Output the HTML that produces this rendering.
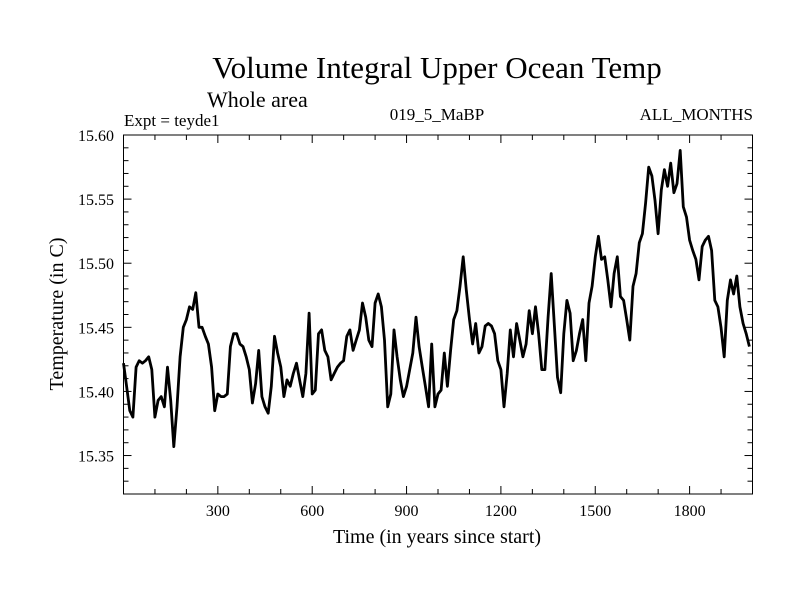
<!DOCTYPE html>
<html><head><meta charset="utf-8"><style>
body{margin:0;background:#fff;}
svg{display:block;font-family:"Liberation Serif",serif;}
</style></head><body>
<svg id="chart" width="800" height="600" viewBox="0 0 800 600">
<rect width="800" height="600" fill="#fff"/>
<text x="437" y="78" font-size="31" text-anchor="middle">Volume Integral Upper Ocean Temp</text>
<text x="207" y="107" font-size="22">Whole area</text>
<text x="124" y="126" font-size="17">Expt = teyde1</text>
<text x="437" y="120" font-size="17" text-anchor="middle">019_5_MaBP</text>
<text x="753" y="120" font-size="17" text-anchor="end">ALL_MONTHS</text>
<text x="437" y="543" font-size="20" text-anchor="middle">Time (in years since start)</text>
<text transform="translate(63,314) rotate(-90)" font-size="20" text-anchor="middle">Temperature (in C)</text>
<g id="axes"></g>
<path id="series" fill="none" stroke="#000" stroke-width="2.8" stroke-linejoin="round"/>
<rect x="123.5" y="135" width="629" height="359" fill="none" stroke="#000" stroke-width="1"/>
</svg>
<script>
const years0 = 0, yearStep = 10;
const temps = [
15.422,15.404,15.385,15.380,15.419,15.424,15.422,15.424,15.427,15.417,
15.380,15.393,15.396,15.388,15.419,15.393,15.357,15.388,15.427,15.450,
15.456,15.466,15.464,15.477,15.450,15.450,15.443,15.437,15.419,15.385,
15.398,15.396,15.396,15.398,15.435,15.445,15.445,15.437,15.435,15.427,
15.417,15.391,15.406,15.432,15.396,15.388,15.383,15.404,15.443,15.430,
15.419,15.396,15.409,15.404,15.414,15.422,15.409,15.396,15.414,15.461,
15.398,15.401,15.445,15.448,15.432,15.427,15.409,15.414,15.419,15.422,
15.424,15.443,15.448,15.432,15.440,15.448,15.469,15.458,15.440,15.435,
15.469,15.476,15.466,15.440,15.388,15.398,15.448,15.427,15.409,15.396,
15.404,15.417,15.430,15.458,15.435,15.419,15.404,15.388,15.437,15.388,
15.398,15.401,15.430,15.404,15.432,15.456,15.463,15.482,15.505,15.479,
15.456,15.437,15.453,15.430,15.435,15.451,15.453,15.451,15.445,15.424,
15.417,15.388,15.414,15.448,15.427,15.453,15.440,15.427,15.437,15.463,
15.445,15.466,15.445,15.417,15.417,15.458,15.492,15.451,15.411,15.399,
15.445,15.471,15.461,15.424,15.432,15.445,15.456,15.424,15.469,15.482,
15.505,15.521,15.503,15.505,15.487,15.466,15.492,15.505,15.474,15.471,
15.456,15.440,15.482,15.492,15.516,15.523,15.547,15.575,15.568,15.549,
15.523,15.557,15.573,15.560,15.578,15.555,15.562,15.588,15.544,15.536,
15.518,15.510,15.503,15.487,15.513,15.518,15.521,15.510,15.471,15.466,
15.450,15.427,15.471,15.487,15.476,15.490,15.466,15.453,15.445,15.435
];
const xTicks = [300,600,900,1200,1500,1800];
const yTicks = [15.35,15.40,15.45,15.50,15.55,15.60];
const L=123.5,R=752.5,T=135,B=494;
const xMin=0,xMax=2000,yMin=15.32,yMax=15.60;
function sx(v){return L+(v-xMin)/(xMax-xMin)*(R-L);}
function sy(v){return B-(v-yMin)/(yMax-yMin)*(B-T);}
const NS="http://www.w3.org/2000/svg";
const axes=document.getElementById('axes');
function line(x1,y1,x2,y2){const l=document.createElementNS(NS,'line');l.setAttribute('x1',x1);l.setAttribute('y1',y1);l.setAttribute('x2',x2);l.setAttribute('y2',y2);l.setAttribute('stroke','#000');l.setAttribute('stroke-width','1');axes.appendChild(l);return l;}
for(let v=100;v<2000;v+=100){const x=sx(v);const len=(v%300===0)?8:5;
 const a=line(x,B,x,B-len);
 
 
 const b=line(x,T,x,T+len);
 
 }
for(let i=1;i<28;i++){const v=yMin+i*0.01;const y=sy(v);const major=(Math.round(v*100)%5===0);const len=major?8:5;
 const a=line(L,y,L+len,y);
 
 
 const b=line(R,y,R-len,y);
 
 }
xTicks.forEach(v=>{const t=document.createElementNS(NS,'text');t.setAttribute('x',sx(v));t.setAttribute('y',516);t.setAttribute('font-size','16');t.setAttribute('text-anchor','middle');t.textContent=v;
 
 
 axes.appendChild(t);});
yTicks.forEach(v=>{const t=document.createElementNS(NS,'text');t.setAttribute('x',114);t.setAttribute('y',sy(v)+6);t.setAttribute('font-size','16');t.setAttribute('text-anchor','end');t.textContent=v.toFixed(2);
 
 
 axes.appendChild(t);});
let d='';temps.forEach((v,i)=>{const x=sx(years0+i*yearStep);d+=(i?'L':'M')+x.toFixed(1)+','+sy(v).toFixed(1);});
document.getElementById('series').setAttribute('d',d);
</script>
</body></html>
